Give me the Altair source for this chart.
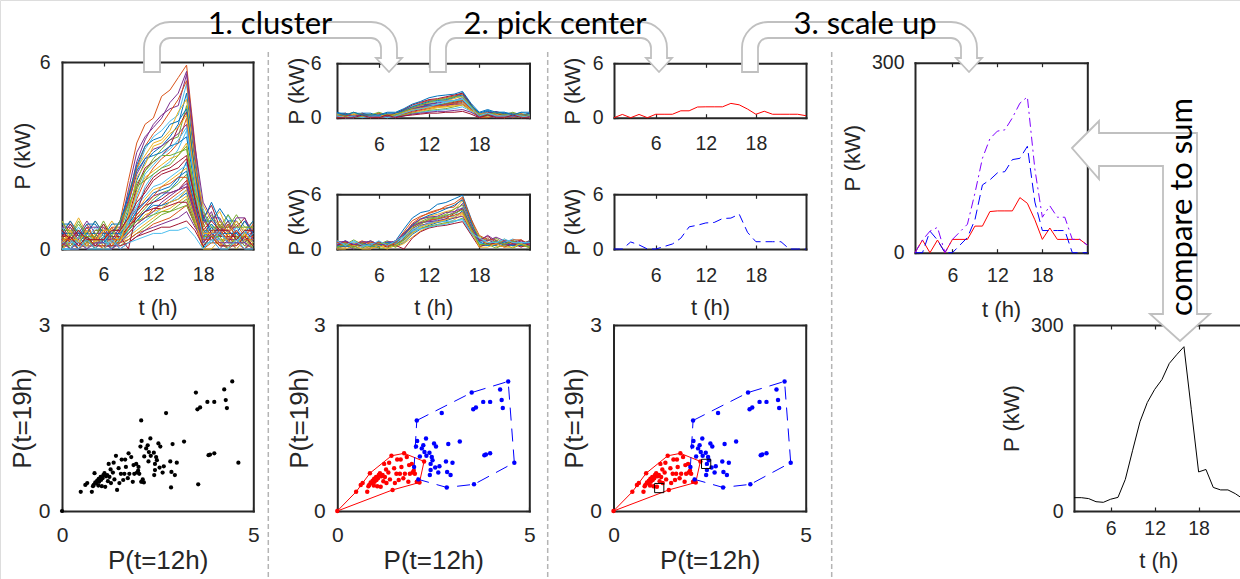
import altair as alt
import pandas as pd

W, H = 1240, 579
AXFONT = "Liberation Sans"
ANNFONT = "Lato"
INK = "#262626"
ARROW_GRAY = "#c0c0c0"
MATLAB_COLORS = ["#0072BD", "#D95319", "#EDB120", "#7E2F8E", "#77AC30", "#4DBEEE", "#A2142F"]

HOURS = list(range(1, 25))

# ---- household profiles (kW per hour), high-consumption cluster ----
HIGH_PROFILES = [
    [0.5,0.9,0.4,0.8,0.3,0.7,0.5,0.9,2.2,3.4,4.0,4.2,4.9,5.1,5.5,5.9,3.4,1.0,0.5,0.9,0.5,0.8,0.4,0.7],
    [0.2,0.6,0.2,0.6,0.2,0.2,0.6,0.6,1.6,2.8,3.5,4.0,4.3,4.5,4.6,5.6,3.2,0.8,1.2,0.4,0.8,0.4,0.4,0.4],
    [0.7,0.3,0.7,0.3,0.7,0.3,0.3,0.7,1.4,2.5,3.2,3.6,3.8,4.1,4.3,5.3,3.0,1.3,0.5,0.5,1.1,0.5,0.5,0.5],
    [0.0,0.4,0.0,0.4,0.0,0.4,0.4,0.4,1.2,2.2,2.8,3.1,3.3,3.6,4.0,5.0,2.8,0.3,1.0,0.6,0.3,0.6,0.3,0.3],
    [0.9,0.5,1.0,0.5,0.9,0.5,0.9,0.5,1.8,2.6,3.0,3.4,3.5,3.8,4.4,4.8,2.6,1.4,0.9,1.2,0.6,0.9,0.6,0.9],
    [0.4,0.4,0.8,0.4,0.4,0.8,0.4,0.4,0.9,1.9,2.5,2.9,3.2,3.5,3.6,4.6,2.5,0.6,0.6,0.6,0.9,0.3,0.6,0.6],
    [0.6,0.2,0.6,0.2,0.6,0.6,0.2,0.6,1.0,2.0,2.6,2.8,3.0,3.3,3.9,4.4,2.4,1.0,1.4,0.7,0.7,0.7,1.0,0.4],
    [0.3,0.7,0.3,0.7,0.3,0.3,0.7,0.3,0.7,1.6,2.2,2.6,2.9,3.1,3.4,4.2,2.3,0.4,0.4,0.8,0.4,0.4,0.4,0.4],
    [0.5,0.5,0.5,0.9,0.5,0.5,0.5,0.9,1.5,2.4,2.9,3.2,3.3,3.5,3.7,4.0,2.2,1.1,0.5,0.5,0.9,0.5,0.9,0.5],
    [0.2,0.2,0.6,0.2,0.2,0.2,0.6,0.2,0.6,1.3,2.0,2.4,2.6,2.8,3.2,3.8,2.0,0.3,0.8,0.3,0.3,0.7,0.3,0.3],
    [0.8,0.8,0.4,0.8,0.8,0.4,0.8,0.8,1.7,2.5,2.9,3.0,3.1,3.3,3.4,3.6,2.0,0.9,0.9,1.3,0.9,0.9,0.5,0.9],
    [0.1,0.5,0.1,0.1,0.5,0.1,0.1,0.5,1.0,1.8,2.3,2.5,2.7,2.9,3.0,3.4,1.8,0.5,0.5,0.1,0.5,0.1,0.5,0.1],
    [0.6,0.6,0.6,0.2,0.6,0.6,0.6,0.6,1.3,2.1,2.5,2.8,3.0,3.0,3.1,3.2,1.7,0.7,1.1,0.7,0.7,1.1,0.7,0.7],
    [0.4,0.8,0.4,0.4,0.4,0.8,0.4,0.4,0.0,1.2,1.9,2.3,2.5,2.6,2.8,3.0,1.6,0.2,0.6,0.6,0.2,0.6,0.2,0.6],
    [0.3,0.3,0.3,0.7,0.3,0.3,0.7,0.7,1.5,2.6,3.3,3.7,4.0,4.4,4.8,5.4,3.0,0.8,0.4,0.4,0.8,0.4,0.4,0.8],
    [0.7,0.7,0.3,0.7,0.7,0.7,0.3,0.7,1.9,3.1,3.6,3.9,4.2,4.7,5.0,5.7,3.3,1.5,1.0,1.0,0.5,1.0,1.0,0.5],
    [0.0,0.0,0.4,0.0,0.0,0.4,0.0,0.4,0.8,1.7,2.4,2.7,3.0,3.2,3.5,3.9,2.1,0.2,0.2,0.6,0.2,0.2,0.6,0.2],
    [0.5,0.9,0.5,0.5,0.9,0.5,0.5,0.9,1.7,2.7,3.3,3.5,3.6,4.0,4.1,4.5,2.5,0.9,1.5,0.9,0.5,0.5,0.9,0.5],
    [0.2,0.6,0.2,0.6,0.2,0.6,0.6,0.2,1.1,2.3,2.7,3.3,3.4,3.7,3.9,4.3,2.3,0.5,0.5,0.9,0.5,0.9,0.5,0.2],
    [0.9,0.4,0.9,0.4,0.4,0.9,0.4,0.9,1.4,2.0,2.2,2.4,2.6,2.7,3.0,3.3,1.8,1.2,0.7,0.7,1.1,0.7,0.7,0.7],
]

# ---- household profiles (kW per hour), low-consumption cluster ----
LOW_PROFILES = [
    [0.3,0.0,0.3,0.0,0.3,0.0,0.3,0.3,0.6,0.9,1.2,1.5,1.7,1.9,2.2,2.8,1.5,0.0,0.5,0.3,0.3,0.5,0.3,0.3],
    [0.0,0.3,0.0,0.3,0.0,0.3,0.0,0.3,0.8,1.2,1.6,1.9,2.0,2.2,2.4,2.6,1.4,0.3,0.6,0.3,0.3,0.3,0.0,0.3],
    [0.2,0.2,0.5,0.2,0.2,0.5,0.2,0.2,0.6,1.0,1.3,1.6,1.8,1.9,2.1,2.4,1.3,0.2,0.2,0.5,0.2,0.2,0.5,0.2],
    [0.4,0.1,0.4,0.1,0.1,0.4,0.4,0.4,0.7,1.1,1.4,1.5,1.6,1.8,1.9,2.2,1.2,0.4,0.7,0.4,0.4,0.4,0.1,0.4],
    [0.1,0.4,0.1,0.1,0.4,0.1,0.1,0.4,0.5,0.8,1.0,1.3,1.4,1.6,1.8,2.0,1.1,0.1,0.4,0.1,0.4,0.1,0.4,0.1],
    [0.5,0.2,0.5,0.5,0.2,0.5,0.2,0.5,0.9,1.3,1.5,1.7,1.8,1.8,1.9,2.1,1.2,0.6,0.3,0.6,0.6,0.3,0.6,0.3],
    [0.0,0.0,0.3,0.0,0.3,0.0,0.0,0.3,0.4,0.7,0.9,1.1,1.3,1.5,1.7,1.9,1.0,0.0,0.3,0.3,0.0,0.3,0.3,0.0],
    [0.3,0.3,0.0,0.3,0.3,0.3,0.0,0.3,0.6,0.9,1.2,1.4,1.4,1.5,1.6,1.8,1.0,0.3,0.7,0.3,0.3,0.0,0.3,0.3],
    [0.2,0.5,0.2,0.2,0.2,0.5,0.2,0.2,0.4,0.6,0.8,1.0,1.2,1.3,1.5,1.7,0.9,0.2,0.2,0.2,0.5,0.2,0.2,0.5],
    [0.1,0.1,0.4,0.1,0.4,0.1,0.4,0.1,0.3,0.5,0.7,0.9,1.1,1.2,1.4,1.6,0.9,0.5,0.5,0.1,0.1,0.4,0.1,0.1],
    [0.4,0.4,0.1,0.4,0.1,0.4,0.1,0.4,0.7,1.0,1.2,1.3,1.3,1.4,1.5,1.5,0.8,0.4,0.4,0.7,0.4,0.4,0.4,0.1],
    [0.0,0.2,0.0,0.2,0.2,0.0,0.2,0.2,0.3,0.5,0.6,0.8,0.9,1.0,1.2,1.4,0.8,0.0,0.2,0.2,0.0,0.2,0.0,0.2],
    [0.3,0.0,0.0,0.3,0.0,0.3,0.3,0.0,0.2,0.4,0.6,0.7,0.8,0.9,1.0,1.2,0.7,0.3,0.3,0.0,0.3,0.3,0.0,0.3],
    [0.2,0.2,0.2,0.5,0.2,0.2,0.2,0.5,0.9,1.4,1.7,2.0,2.1,2.3,2.5,2.7,1.5,0.2,0.5,0.5,0.2,0.2,0.2,0.5],
    [0.5,0.5,0.2,0.5,0.5,0.2,0.5,0.5,0.8,1.2,1.5,1.8,1.9,2.0,2.3,2.5,1.4,0.5,0.8,0.5,0.5,0.5,0.2,0.5],
    [0.0,0.3,0.3,0.0,0.3,0.0,0.3,0.3,0.5,0.8,1.1,1.2,1.3,1.5,1.6,1.9,1.0,0.0,0.0,0.3,0.3,0.0,0.3,0.0],
    [0.4,0.0,0.4,0.4,0.0,0.4,0.0,0.4,0.6,0.9,1.0,1.1,1.2,1.2,1.3,1.4,0.8,0.4,0.4,0.4,0.0,0.4,0.4,0.0],
    [0.1,0.4,0.1,0.4,0.1,0.1,0.1,0.1,0.2,0.4,0.5,0.6,0.7,0.7,0.8,0.9,0.6,0.1,0.4,0.1,0.1,0.1,0.4,0.1],
    [0.3,0.3,0.6,0.3,0.3,0.6,0.3,0.3,0.7,1.1,1.4,1.7,2.0,2.1,2.3,2.3,1.3,0.3,0.3,0.6,0.3,0.6,0.3,0.3],
    [0.2,0.0,0.2,0.0,0.2,0.2,0.0,0.2,0.5,0.8,1.0,1.2,1.5,1.7,1.9,2.0,1.1,0.2,0.5,0.2,0.2,0.2,0.2,0.0],
    [0.0,0.0,0.0,0.3,0.0,0.0,0.3,0.0,0.2,0.3,0.4,0.5,0.5,0.6,0.6,0.7,0.4,0.0,0.3,0.0,0.0,0.3,0.0,0.0],
    [0.6,0.3,0.6,0.3,0.3,0.3,0.6,0.6,1.0,1.5,1.8,2.2,2.4,2.5,2.6,2.9,1.6,0.6,0.9,0.6,0.6,0.3,0.6,0.6],
]

# ---- picked cluster centers (kW) ----
CENTER_LOW = [0.0,0.36,0.0,0.36,0.0,0.38,0.38,0.38,0.76,0.76,1.18,1.2,1.2,1.2,1.58,1.42,0.95,0.38,0.71,0.38,0.38,0.38,0.38,0.22]
CENTER_HIGH = [0.0,0.0,0.77,0.45,0.0,0.0,0.27,0.55,1.18,2.43,2.61,2.86,2.91,3.34,3.39,3.82,1.82,0.8,0.8,0.8,0.8,0.0,0.0,0.0]

# ---- scaled-up centers (kW) ----
SCALED_LOW = [0,20,0,20,0,21,21,21,42,42,65,66,66,66,87,78,52,21,39,21,21,21,21,12]
SCALED_HIGH = [0,0,34,20,0,0,12,24,52,107,115,126,128,147,149,168,80,35,35,35,35,0,0,0]
SCALED_BOTH = [0,20,34,40,0,21,33,45,94,149,180,192,194,213,236,246,132,56,74,56,56,21,21,12]

# ---- true aggregate (kW) ----
TOTAL = [21.5,21.5,20,15,14,19,22,51,98,144,175,196,212,238,252,265,164,63,67,38,34,34,28,20]

# ---- scatter: P(t=12h) vs P(t=19h) ----
RED_X = [0.00,0.49,0.61,0.66,0.78,0.81,0.85,0.87,0.92,0.96,1.01,1.04,1.08,1.11,1.13,1.22,1.24,1.28,1.33,
         1.41,1.44,1.48,1.50,1.56,1.60,1.63,1.74,1.76,1.81,1.85,1.89,1.94,1.96,2.02,2.07,2.14,2.26,
         0.83,0.90,0.97,1.02,1.15,1.18,0.95,1.27,1.37,1.54,1.67,1.72,1.99,1.06,1.20,1.65,1.87,1.35]
RED_Y = [0.00,0.31,0.42,0.45,0.31,0.40,0.61,0.46,0.49,0.52,0.55,0.40,0.58,0.61,0.39,0.76,0.55,0.45,0.62,
         0.89,0.34,0.69,0.45,0.83,0.50,0.60,0.93,0.60,0.87,0.47,0.60,0.76,0.62,0.60,0.47,0.46,0.80,
         0.42,0.45,0.47,0.50,0.56,0.58,0.41,0.67,0.51,0.60,0.71,0.53,0.65,0.53,0.48,0.83,0.74,0.78]
BLUE_X = [2.00,2.07,2.05,2.08,2.11,2.15,2.20,2.24,2.31,2.40,2.43,2.43,2.46,2.41,2.52,2.57,2.66,2.63,2.72,
          2.83,2.86,2.85,2.89,2.95,3.00,3.19,3.50,3.56,3.54,3.61,3.80,3.83,3.87,3.98,3.98,4.24,4.28,4.31,
          4.45,4.61,2.32,2.48,2.27,2.55]
BLUE_Y = [0.71,1.46,1.04,1.13,0.51,0.88,1.01,1.06,1.17,0.94,0.76,0.66,0.87,0.58,1.09,1.04,0.72,0.62,1.58,
          0.80,0.63,0.38,1.08,0.58,0.78,1.12,1.91,0.43,1.64,1.67,1.76,0.90,0.91,0.93,1.76,1.96,1.79,1.66,
          2.09,0.78,0.89,0.82,0.95,0.70]

RED_HULL_X = [0.00,0.49,0.85,1.41,1.74,2.26,2.14,1.44,0.00]
RED_HULL_Y = [0.00,0.31,0.61,0.89,0.93,0.80,0.46,0.34,0.00]
BLUE_HULL_X = [2.07,3.50,4.45,4.61,3.56,2.85,2.11,2.00,2.07]
BLUE_HULL_Y = [1.46,1.91,2.09,0.78,0.43,0.38,0.51,0.71,1.46]

CENTER_PT_X = [1.19, 2.41]
CENTER_PT_Y = [0.37, 0.76]

# ---- panel geometry (pixels on the 1240x579 canvas) ----
TOP = dict(xd=(1, 24), yd=(0, 6), xv=[6, 12, 18], yv=[0, 6], tick=19.5, ttl=22)
SCAT = dict(xd=(0, 5), yd=(0, 3), xv=[0, 5], yv=[0, 3], tick=21, ttl=26,
            xtitle="P(t=12h)", ytitle="P(t=19h)", xty=560, xlp=13, ylp=12)
PANELS = {
    "A": dict(TOP, x=(62, 253), y=(249, 62), xtitle="t (h)", ytitle="P (kW)", xty=307, ytx=22.5, xlp=16, ylp=12),
    "B1": dict(TOP, x=(337, 529.5), y=(117.7, 63.3), xtitle=None, ytitle="P (kW)", ytx=296.5, xlp=17.5, ylp=16),
    "B2": dict(TOP, x=(337, 529.5), y=(249, 194.3), xtitle="t (h)", ytitle="P (kW)", xty=307, ytx=296.5, xlp=17.5, ylp=16),
    "C1": dict(TOP, x=(614, 806), y=(117.7, 63.3), xtitle=None, ytitle="P (kW)", ytx=572.5, xlp=17, ylp=11),
    "C2": dict(TOP, x=(614, 806), y=(249, 194.3), xtitle="t (h)", ytitle="P (kW)", xty=307, ytx=572.5, xlp=17, ylp=11),
    "D": dict(TOP, x=(915, 1087.3), y=(252.7, 62.7), yd=(0, 300), yv=[0, 300], xtitle="t (h)", ytitle="P (kW)",
              xty=309, ytx=852.5, xlp=14, ylp=11),
    "E1": dict(SCAT, x=(62, 253.3), y=(511, 325), ytx=22.5),
    "E2": dict(SCAT, x=(337.3, 529.3), y=(511, 325), ytx=299),
    "E3": dict(SCAT, x=(613.5, 805.7), y=(511, 325), ytx=574),
    "F": dict(TOP, x=(1074, 1242.6), y=(511, 325), yd=(0, 300), yv=[0, 300], xtitle="t (h)", ytitle="P (kW)",
              xty=560, ytx=1011.7, xlp=8, ylp=11),
}


def sx(p):
    return alt.Scale(domain=list(p["xd"]), range=list(p["x"]), nice=False, zero=False)


def sy(p):
    return alt.Scale(domain=list(p["yd"]), range=list(p["y"]), nice=False, zero=False)


def X(field, p):
    return alt.X(field, scale=sx(p), axis=None)


def Y(field, p):
    return alt.Y(field, scale=sy(p), axis=None)


def frame_layers(p):
    df = pd.DataFrame({"x": [p["xd"][0]], "y": [p["yd"][0]]})
    base = alt.Chart(df).mark_point(opacity=0)
    x0, x1 = p["x"]
    yb, yt = p["y"]
    dom = dict(domain=True, domainColor=INK, domainWidth=2, domainCap="square")
    common = dict(grid=False, tickColor=INK, tickWidth=1.2, labelFlush=False, labelOverlap=False)

    xa = dict(orient="bottom", offset=yb - H, values=p["xv"], ticks=False, tickSize=0,
              labels=True, labelPadding=p["xlp"], labelFont=AXFONT, labelFontSize=p["tick"],
              labelColor=INK, format="d", **dom, **common)
    if p.get("xtitle"):
        xa.update(title=p["xtitle"], titleFont=AXFONT, titleFontSize=p["ttl"], titleFontWeight="normal",
                  titleColor=INK, titleX=(x0 + x1) / 2, titleY=p["xty"] - yb, titleBaseline="middle",
                  titleAlign="center", titleAngle=0)
    else:
        xa["title"] = None
    ya = dict(orient="left", offset=-x0, values=p["yv"], ticks=False, tickSize=0,
              labels=True, labelPadding=p["ylp"], labelFont=AXFONT, labelFontSize=p["tick"],
              labelColor=INK, format="d", title=p["ytitle"], titleFont=AXFONT, titleFontSize=p["ttl"],
              titleFontWeight="normal", titleColor=INK, titleX=p["ytx"] - x0, titleY=(yb + yt) / 2,
              titleBaseline="middle", titleAlign="center", titleAngle=270, **dom, **common)
    main = base.encode(x=alt.X("x:Q", scale=sx(p), axis=alt.Axis(**xa)),
                       y=alt.Y("y:Q", scale=sy(p), axis=alt.Axis(**ya)))

    inner = base.encode(
        x=alt.X("x:Q", scale=sx(p), axis=alt.Axis(orient="top", offset=-yb, values=p["xv"], domain=False,
                                                  labels=False, ticks=True, tickSize=4, title=None, **common)),
        y=alt.Y("y:Q", scale=sy(p), axis=alt.Axis(orient="right", offset=x0 - W, values=p["yv"], domain=False,
                                                  labels=False, ticks=True, tickSize=4, title=None, **common)))

    box = base.encode(
        x=alt.X("x:Q", scale=sx(p), axis=alt.Axis(orient="bottom", offset=yt - H, values=p["xv"], labels=False,
                                                  ticks=True, tickSize=4, title=None, **dom, **common)),
        y=alt.Y("y:Q", scale=sy(p), axis=alt.Axis(orient="left", offset=-x1, values=p["yv"], labels=False,
                                                  ticks=True, tickSize=4, title=None, **dom, **common)))
    return [main, inner, box]


def profiles_df(profiles):
    rows = []
    for i, prof in enumerate(profiles):
        for h, v in zip(HOURS, prof):
            rows.append({"id": i, "c": i % 7, "t": h, "p": v})
    return pd.DataFrame(rows)


def multi_lines(profiles, p):
    return alt.Chart(profiles_df(profiles)).mark_line(strokeWidth=1).encode(
        x=X("t:Q", p), y=Y("p:Q", p),
        color=alt.Color("c:N", scale=alt.Scale(domain=list(range(7)), range=MATLAB_COLORS), legend=None),
        detail="id:N")


def single_line(values, p, color, dash=None, width=1.0):
    df = pd.DataFrame({"t": HOURS, "p": values})
    kw = dict(color=color, strokeWidth=width)
    if dash:
        kw["strokeDash"] = dash
    return alt.Chart(df).mark_line(**kw).encode(x=X("t:Q", p), y=Y("p:Q", p))


def points(xs, ys, p, color, size=20):
    df = pd.DataFrame({"a": xs, "b": ys})
    return alt.Chart(df).mark_circle(size=size, color=color, opacity=1).encode(x=X("a:Q", p), y=Y("b:Q", p))


def hull(xs, ys, p, color, dash=None):
    df = pd.DataFrame({"a": xs, "b": ys, "i": list(range(len(xs)))})
    kw = dict(color=color, strokeWidth=1)
    if dash:
        kw["strokeDash"] = dash
    return alt.Chart(df).mark_line(**kw).encode(x=X("a:Q", p), y=Y("b:Q", p), order="i:Q")


layers = []

# interleave the two clusters for the "all households" panel
ALL = []
for i in range(max(len(HIGH_PROFILES), len(LOW_PROFILES))):
    if i < len(LOW_PROFILES):
        ALL.append(LOW_PROFILES[i])
    if i < len(HIGH_PROFILES):
        ALL.append(HIGH_PROFILES[i])

pA = PANELS["A"]
layers.append(multi_lines(ALL, pA))
layers.append(multi_lines(LOW_PROFILES, PANELS["B1"]))
layers.append(multi_lines(HIGH_PROFILES, PANELS["B2"]))
layers.append(single_line(CENTER_LOW, PANELS["C1"], "#FF0000"))
layers.append(single_line(CENTER_HIGH, PANELS["C2"], "#0000FF", dash=[9, 5]))
pD = PANELS["D"]
layers.append(single_line(SCALED_LOW, pD, "#FF0000"))
layers.append(single_line(SCALED_HIGH, pD, "#0000FF", dash=[10, 5]))
layers.append(single_line(SCALED_BOTH, pD, "#7F00FF", dash=[9, 4, 2, 4]))
layers.append(single_line(TOTAL, PANELS["F"], "#000000"))

# scatter panels
pE1, pE2, pE3 = PANELS["E1"], PANELS["E2"], PANELS["E3"]
layers.append(points(RED_X + BLUE_X, RED_Y + BLUE_Y, pE1, "#000000", size=18))
for pe in (pE2, pE3):
    layers.append(hull(RED_HULL_X, RED_HULL_Y, pe, "#FF0000"))
    layers.append(hull(BLUE_HULL_X, BLUE_HULL_Y, pe, "#0000FF", dash=[13, 8]))
    layers.append(points(RED_X, RED_Y, pe, "#FF0000"))
    layers.append(points(BLUE_X, BLUE_Y, pe, "#0000FF"))
layers.append(alt.Chart(pd.DataFrame({"a": CENTER_PT_X, "b": CENTER_PT_Y})).mark_square(
    filled=False, size=85, color="#000000", strokeWidth=1, opacity=1).encode(x=X("a:Q", pE3), y=Y("b:Q", pE3)))

for key in ["A", "B1", "B2", "C1", "C2", "D", "E1", "E2", "E3", "F"]:
    layers.extend(frame_layers(PANELS[key]))

# ---- annotations ----
one = pd.DataFrame({"k": [0]})

for xpos in (268.3, 547.7, 831.7):
    layers.append(alt.Chart(one).mark_rule(color="#b4b4b4", strokeDash=[5, 3], strokeWidth=1.5).encode(
        x=alt.value(xpos), y=alt.value(52), y2=alt.value(H)))


def curved_arrow_path(L, w=16, top=50, Ro=26, hh=14, hw=13):
    h = w / 2
    Ri = Ro - w
    return " ".join([
        "M 0 0",
        f"L 0 {-top + Ro}",
        f"A {Ro} {Ro} 0 0 1 {Ro} {-top}",
        f"L {L + h - Ro} {-top}",
        f"A {Ro} {Ro} 0 0 1 {L + h} {-top + Ro}",
        f"L {L + h} {-hh}",
        f"L {L + hw} {-hh}",
        f"L {L} 0",
        f"L {L - hw} {-hh}",
        f"L {L - h} {-hh}",
        f"L {L - h} {-top + Ro}",
        f"A {Ri} {Ri} 0 0 0 {L - h - Ri} {-top + w}",
        f"L {w + Ri} {-top + w}",
        f"A {Ri} {Ri} 0 0 0 {w} {-top + Ro}",
        f"L {w} 0",
        "Z",
    ])


def arrow_layer(path, ax, ay):
    return alt.Chart(one).mark_point(
        shape=path, size=4, filled=True, fill="white", stroke=ARROW_GRAY, strokeWidth=1.8,
        opacity=1, fillOpacity=1, strokeOpacity=1).encode(x=alt.value(ax), y=alt.value(ay))


layers.append(arrow_layer(curved_arrow_path(245), 144, 72))
layers.append(arrow_layer(curved_arrow_path(229), 430, 72))
layers.append(arrow_layer(curved_arrow_path(227), 742, 72))

COMPARE_PATH = ("M 0 0 L 27 -27 L 27 -15 L 125 -15 L 125 166 L 138 166 L 108 193 "
                "L 78 166 L 91 166 L 91 18 L 27 18 L 27 31 Z")
layers.append(arrow_layer(COMPARE_PATH, 1072, 148))

for txt, xc in (("1. cluster", 270), ("2. pick center", 555), ("3. scale up", 865)):
    layers.append(alt.Chart(one).mark_text(text=txt, font=ANNFONT, fontSize=31, align="center",
                                           baseline="alphabetic", color="#000000").encode(
        x=alt.value(xc), y=alt.value(34)))

layers.append(alt.Chart(one).mark_text(text="compare to sum", font=ANNFONT, fontSize=31, align="center",
                                       baseline="middle", angle=270, color="#000000").encode(
    x=alt.value(1182.5), y=alt.value(207)))

chart = alt.layer(*layers).resolve_scale(x="independent", y="independent").properties(
    width=W, height=H, autosize=alt.AutoSizeParams(type="none"), padding=0,
).configure_view(stroke=None).configure(background="white")

chart.save("out.html", embed_options={"renderer": "svg", "actions": False})
